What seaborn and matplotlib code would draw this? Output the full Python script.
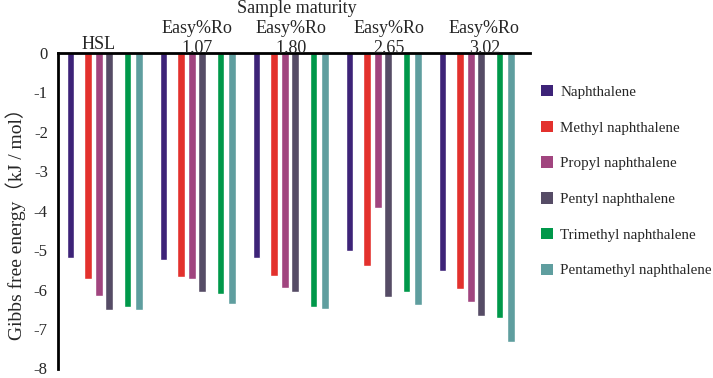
import matplotlib
matplotlib.use('Agg')
import matplotlib.pyplot as plt
from matplotlib.patches import Patch
import numpy as np
import pandas as pd
import seaborn as sns

# data
groups = ['HSL', 'Easy%Ro\n1.07', 'Easy%Ro\n1.80', 'Easy%Ro\n2.65', 'Easy%Ro\n3.02']
compounds = ['Naphthalene', 'Methyl naphthalene', 'Propyl naphthalene',
             'Pentyl naphthalene', 'Trimethyl naphthalene', 'Pentamethyl naphthalene']
naphthalene = [-5.19, -5.25, -5.19, -5.03, -5.54]
methyl_naph = [-5.74, -5.67, -5.66, -5.40, -5.98]
propyl_naph = [-6.16, -5.74, -5.97, -3.94, -6.31]
pentyl_naph = [-6.52, -6.05, -6.05, -6.19, -6.68]
trimethyl_naph = [-6.43, -6.12, -6.43, -6.07, -6.72]
pentamethyl_naph = [-6.52, -6.36, -6.50, -6.38, -7.33]
values = [naphthalene, methyl_naph, propyl_naph, pentyl_naph, trimethyl_naph, pentamethyl_naph]

colors = ['#3d2378', '#e3312d', '#a1457f', '#564c66', '#00984a', '#5f9e9f']
offsets = [0.0, 0.189, 0.303, 0.411, 0.613, 0.734]  # bar position inside a group
label_offsets = [0.30, 0.36, 0.37, 0.42, 0.45]      # group label position

rows = []
for ci, comp in enumerate(compounds):
    for gi, g in enumerate(groups):
        rows.append({'compound': comp, 'group': g, 'x': gi + offsets[ci], 'value': values[ci][gi]})
df = pd.DataFrame(rows)

sns.set_style('white')
plt.rcParams['font.family'] = ['Liberation Serif', 'Noto Sans CJK SC']
plt.rcParams['axes.unicode_minus'] = False

fig = plt.figure(figsize=(7.13, 3.78), dpi=100)
ax = fig.add_axes([57.5 / 713, 1 - 368.5 / 378, (530 - 57.5) / 713, (368.5 - 53) / 378])

for ci, comp in enumerate(compounds):
    sub = df[df['compound'] == comp]
    sns.barplot(data=sub, x='x', y='value', native_scale=True, width=0.084,
                color=colors[ci], saturation=1, errorbar=None, ax=ax)

ax.set_xlim(-13 / 93, (530 - 70.5) / 93)
ax.set_ylim(-8, 0)
ax.set_xticks([])
ax.set_xlabel('')
ax.set_ylabel('')
ax.set_yticks(np.arange(-8, 1, 1))
ax.tick_params(axis='y', direction='in', length=4, width=1.5, pad=7, labelsize=12)
for s in ['right', 'bottom']:
    ax.spines[s].set_visible(False)
ax.spines['left'].set_linewidth(2)
ax.spines['top'].set_linewidth(2)
ax.spines['left'].set_color('black')
ax.spines['top'].set_color('black')

# group labels above the top line
for gi, g in enumerate(groups):
    dy = 4 if '\n' not in g else 0
    ax.annotate(g, xy=(gi + label_offsets[gi], 1), xycoords=('data', 'axes fraction'),
                xytext=(0, dy * 0.72), textcoords='offset points',
                ha='center', va='baseline', fontsize=13, linespacing=1.2)

fig.text(297 / 713, 1 - 13 / 378, 'Sample maturity', ha='center', va='baseline', fontsize=13)
fig.text(16 / 713, 1 - 219 / 378, 'Gibbs free energy（kJ / mol）', rotation=90,
         ha='center', va='center', fontsize=14)

handles = [Patch(facecolor=c, edgecolor='none') for c in colors]
fig.legend(handles, compounds, loc='upper left', bbox_to_anchor=(541 / 713, 1 - 85 / 378),
           frameon=False, fontsize=10.8, handlelength=0.8, handleheight=0.8,
           handletextpad=0.5, labelspacing=1.45, borderpad=0, borderaxespad=0)

fig.savefig('out.png', dpi=100)
